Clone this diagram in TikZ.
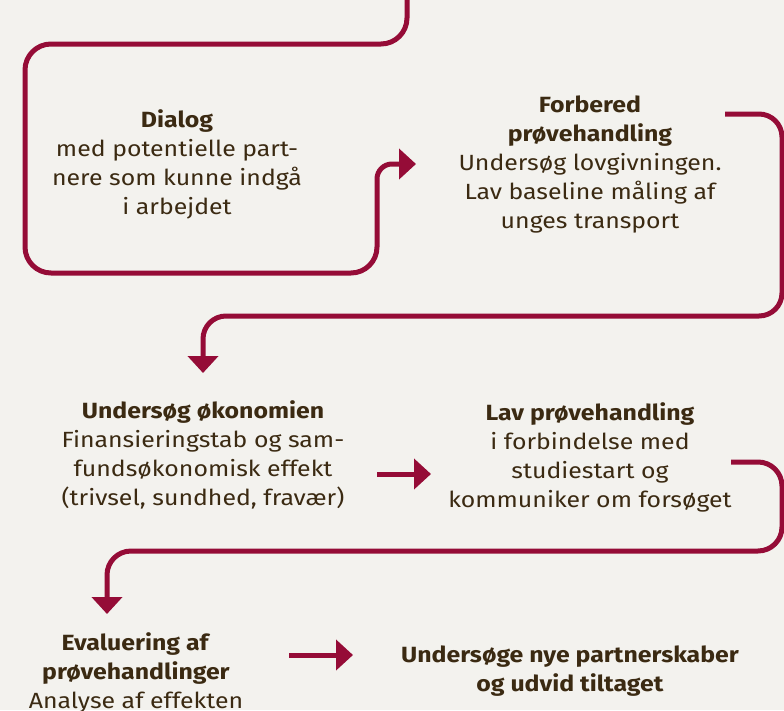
\documentclass[tikz,border=0pt]{standalone}
\usepackage{fontspec}
\setmainfont{Fira Sans}[FakeStretch=1.13]
\usetikzlibrary{arrows.meta}
\definecolor{bgc}{HTML}{F3F2EE}
\definecolor{linec}{HTML}{950C37}
\definecolor{txtc}{HTML}{3B2A12}
\begin{document}
\begin{tikzpicture}[x=1pt,y=-1pt,
  flow/.style={draw=linec,line width=5pt,rounded corners=26pt},
  tip/.style={-{Triangle[length=17pt,width=30pt]}},
  stepbox/.style={align=center,text=txtc,font=\fontsize{22}{29}\selectfont,inner sep=0pt}]
\fill[bgc] (0,0) rectangle (784,710);
\useasboundingbox (0,0) rectangle (784,710);

\node[stepbox] (dialog) at (177,164) {\textbf{Dialog}\\med potentielle part-\\nere som kunne indgå\\i arbejdet};
\node[stepbox] (forb) at (590,164) {\textbf{Forbered}\\\textbf{prøvehandling}\\Undersøg lovgivningen.\\Lav baseline måling af\\unges transport};
\node[stepbox] (okon) at (203,455) {\textbf{Undersøg økonomien}\\Finansieringstab og sam-\\fundsøkonomisk effekt\\(trivsel, sundhed, fravær)};
\node[stepbox] (lav) at (590,457) {\textbf{Lav prøvehandling}\\i forbindelse med\\studiestart og\\kommuniker om forsøget};
\node[stepbox] (eval) at (136,673) {\textbf{Evaluering af}\\\textbf{prøvehandlinger}\\Analyse af effekten};
\node[stepbox] (nye) at (570,671) {\textbf{Undersøge nye partnerskaber}\\\textbf{og udvid tiltaget}};

\coordinate (start) at (407,0);
\coordinate (a1) at (416,164);
\coordinate (b0) at (725,114);
\coordinate (b1) at (203,373);
\coordinate (c0) at (377,474);
\coordinate (c1) at (431,474);
\coordinate (d0) at (731,462);
\coordinate (d1) at (107,614);
\coordinate (e0) at (289,655);
\coordinate (e1) at (353,655);

\draw[flow,tip] (start) -- (407,44) -- (25,44) -- (25,273) -- (377,273) [rounded corners=15pt] -- (377,164) -- (a1);
\draw[flow,tip,rounded corners=23pt] (b0) -- (782,114) -- (782,316) -- (203,316) -- (b1);
\draw[flow,tip] (c0) -- (c1);
\draw[flow,tip,rounded corners=24pt] (d0) -- (782,462) -- (782,551) -- (107,551) -- (d1);
\draw[flow,tip] (e0) -- (e1);
\end{tikzpicture}
\end{document}
